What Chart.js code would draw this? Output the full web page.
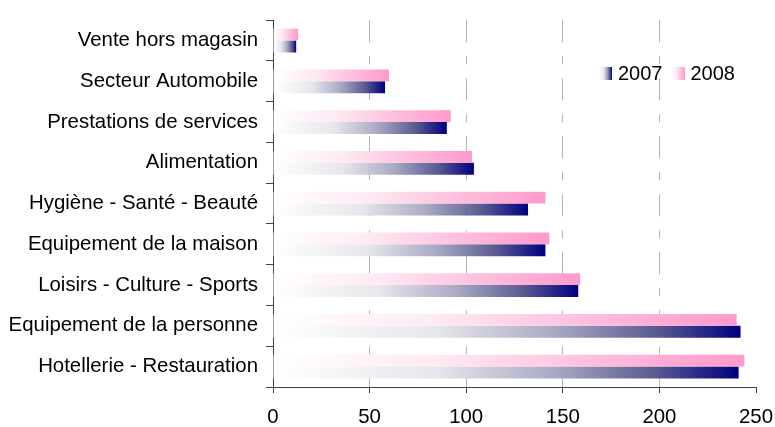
<!DOCTYPE html>
<html>
<head>
<meta charset="utf-8">
<script src="https://cdn.jsdelivr.net/npm/chart.js@4"></script>
<style>
  body { margin: 0; background: #fff; }
  #wrap { position: relative; width: 775px; height: 427px; }
  #legend { position: absolute; left: 599px; top: 62px; display: flex; align-items: center;
            font-family: "Liberation Sans", Arial, sans-serif; font-size: 20px; color: #000; }
  #legend .item { display: flex; align-items: center; margin-right: 9px; }
  #legend .box { width: 13px; height: 13px; margin-right: 6px; }
</style>
</head>
<body>
<div id="wrap">
  <canvas id="chart" width="775" height="427"></canvas>
  <div id="legend"></div>
</div>
<script>
// data
const categories = [
  'Vente hors magasin',
  'Secteur Automobile',
  'Prestations de services',
  'Alimentation',
  'Hygiène - Santé - Beauté',
  'Equipement de la maison',
  'Loisirs - Culture - Sports',
  'Equipement de la personne',
  'Hotellerie - Restauration'
];
const values2007 = [12, 58, 90, 104, 132, 141, 158, 242, 241];
const values2008 = [13, 60, 92, 103, 141, 143, 159, 240, 244];
const seriesNames = ['2007', '2008'];
const xMin = 0, xMax = 250, xStep = 50;

const navyStops = [[0, '#ffffff'], [0.35, '#e6e6ec'], [0.6, '#aaaac4'], [0.82, '#5a5a92'], [1, '#000080']];
const pinkStops = [[0, '#ffffff'], [0.35, '#feeaf3'], [0.65, '#ffc2df'], [1, '#ff99cc']];

function barFill(stops) {
  return (ctx) => {
    const chart = ctx.chart;
    const x = chart.scales.x;
    const solid = stops[stops.length - 1][1];
    if (!x || ctx.type !== 'data') return solid;
    const x0 = x.getPixelForValue(0);
    const x1 = x.getPixelForValue(ctx.raw);
    if (!isFinite(x0) || !isFinite(x1) || x1 - x0 < 1) return solid;
    const g = chart.ctx.createLinearGradient(x0, 0, x1, 0);
    stops.forEach(([o, c]) => g.addColorStop(o, c));
    return g;
  };
}

const font = { family: '"Liberation Sans", Arial, sans-serif', size: 20.4 };
const axisColor = '#404040';

new Chart(document.getElementById('chart'), {
  type: 'bar',
  data: {
    labels: categories,
    datasets: [
      { label: seriesNames[1], data: values2008, backgroundColor: barFill(pinkStops) },
      { label: seriesNames[0], data: values2007, backgroundColor: barFill(navyStops) }
    ]
  },
  options: {
    indexAxis: 'y',
    responsive: false,
    animation: false,
    categoryPercentage: 0.58,
    barPercentage: 1.0,
    layout: { padding: { top: 17, right: 0, left: 0, bottom: 0 } },
    plugins: { legend: { display: false }, tooltip: { enabled: false } },
    scales: {
      x: {
        min: xMin,
        max: xMax,
        afterFit: (s) => { s.height = 40; s.paddingRight = 19; },
        ticks: { stepSize: xStep, color: '#000', font: font, padding: 12 },
        grid: {
          color: (c) => (c.tick && (c.tick.value === xMin || c.tick.value === xMax)) ? 'rgba(0,0,0,0)' : '#b4b4b4',
          tickColor: axisColor,
          tickLength: 6
        },
        border: { color: axisColor, width: 1, dash: [22, 14, 8, 14] }
      },
      y: {
        afterFit: (s) => { s.width = 273; },
        ticks: { color: '#000', font: font, padding: 8 },
        grid: { offset: true, drawOnChartArea: false, tickColor: axisColor, tickLength: 7 },
        border: { color: axisColor, width: 1 }
      }
    }
  }
});

// legend in the plot area, like the original
const legend = document.getElementById('legend');
const legendStops = [navyStops, pinkStops];
seriesNames.forEach((name, i) => {
  const item = document.createElement('div');
  item.className = 'item';
  const box = document.createElement('span');
  box.className = 'box';
  box.style.background = 'linear-gradient(to right, ' +
    legendStops[i].map(([o, c]) => c + ' ' + (o * 100) + '%').join(', ') + ')';
  const txt = document.createElement('span');
  txt.textContent = name;
  item.appendChild(box);
  item.appendChild(txt);
  legend.appendChild(item);
});
</script>
</body>
</html>
